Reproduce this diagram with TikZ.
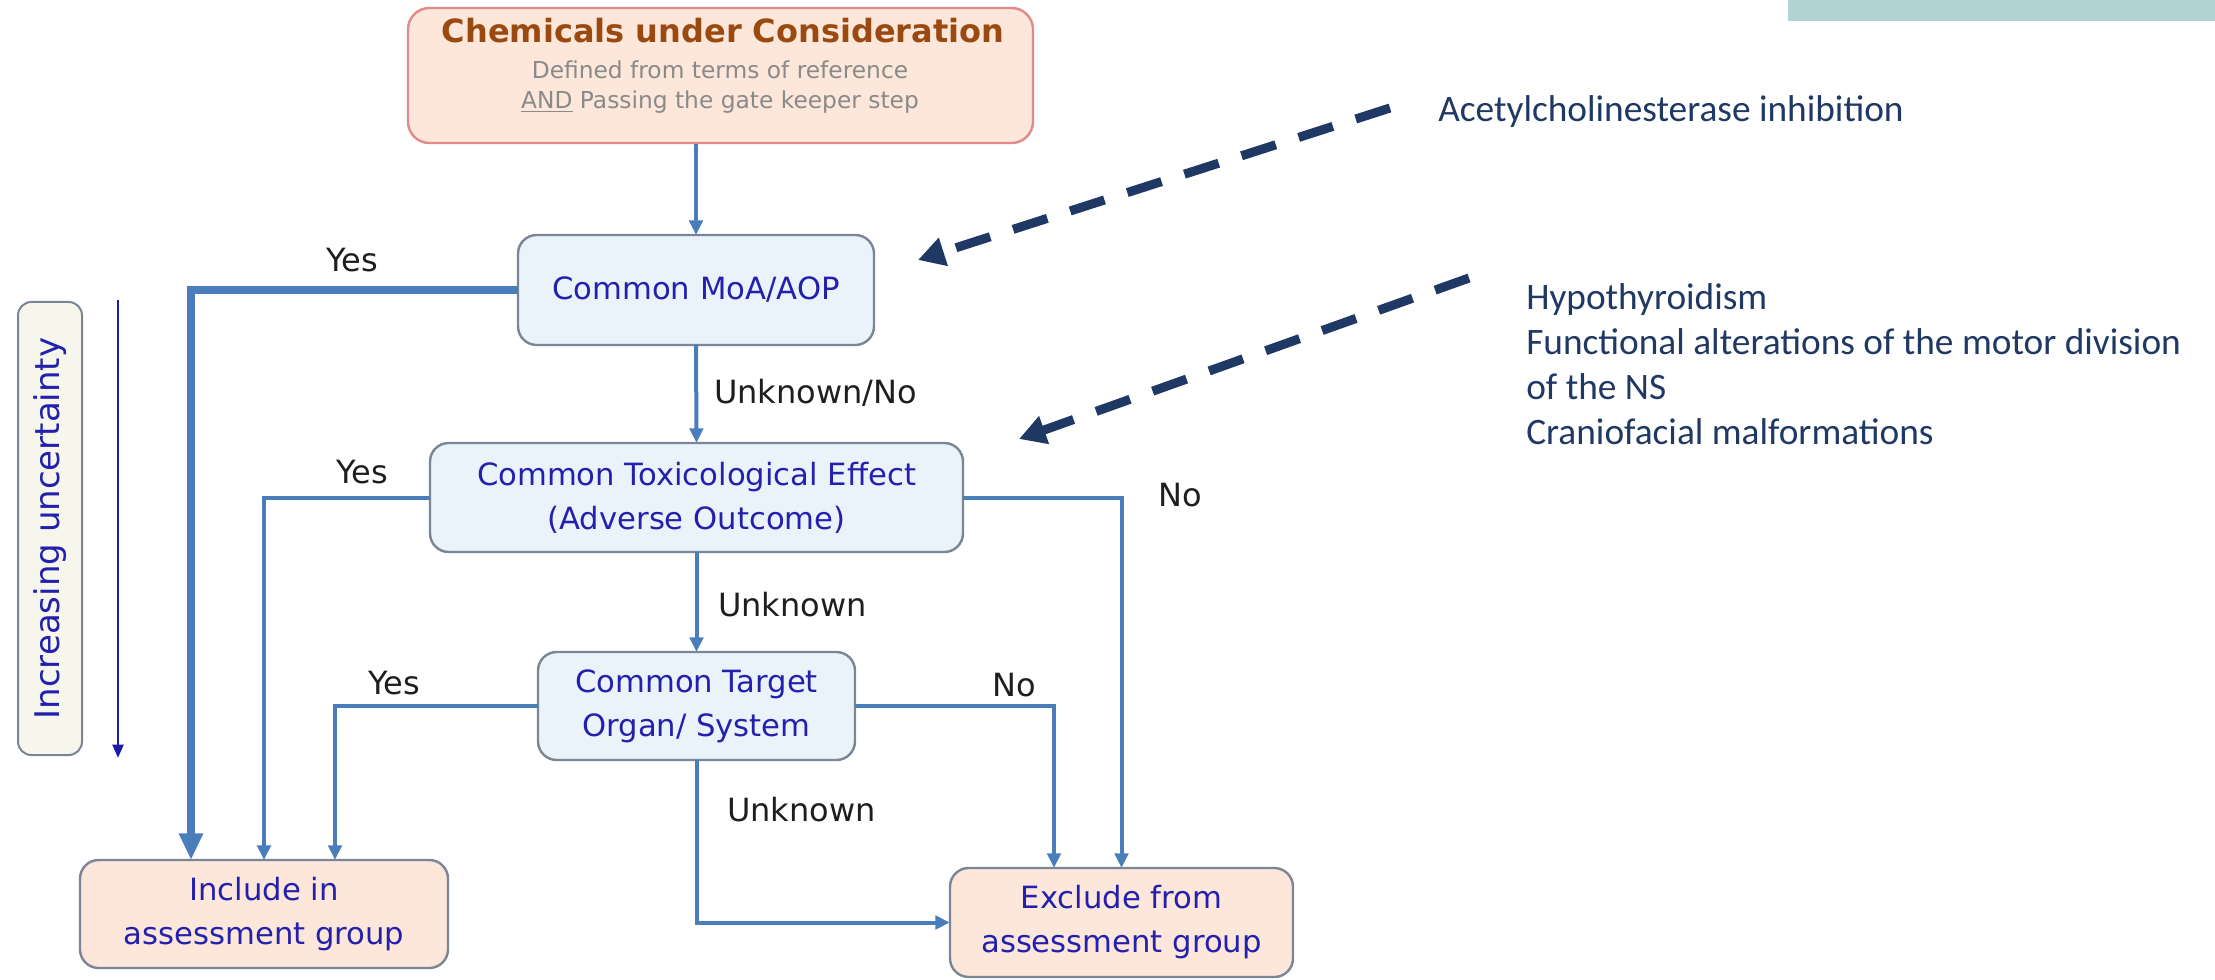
\documentclass[tikz,border=0pt]{standalone}
\usepackage{fontspec}
\setmainfont{DejaVu Sans}
\newfontfamily\calib{Carlito}
\usetikzlibrary{arrows.meta,calc}

\definecolor{peach}{HTML}{FCE7DA}
\definecolor{peachedge}{HTML}{E08A8A}
\definecolor{titlebrown}{HTML}{9A4A10}
\definecolor{subgray}{HTML}{8A8A8A}
\definecolor{paleblue}{HTML}{EAF3FA}
\definecolor{edgegray}{HTML}{7A8696}
\definecolor{txtblue}{HTML}{2420AE}
\definecolor{linkblue}{HTML}{4A7EBB}
\definecolor{paleivory}{HTML}{F6F6EC}
\definecolor{deepblue}{HTML}{1C1CA8}
\definecolor{navy}{HTML}{203864}
\definecolor{tealbar}{HTML}{B1D3D4}
\definecolor{labelink}{HTML}{1E1E1E}

\tikzset{
  box/.style={draw=edgegray, line width=1.8pt, rounded corners=14pt, inner sep=0pt,
    outer sep=0pt, align=center, text=txtblue, font=\fontsize{23}{33}\selectfont},
  qbox/.style={box, fill=paleblue},
  endbox/.style={box, fill=peach},
  link/.style={draw=linkblue, line width=3pt, -{Triangle[length=11pt,width=10pt]}},
  mainlink/.style={draw=linkblue, line width=6.5pt, -{Triangle[length=20pt,width=17pt]}},
  answer/.style={text=labelink, font=\fontsize{24}{28}\selectfont, inner sep=0pt},
  hint/.style={draw=navy, line width=6.8pt, dash pattern=on 27pt off 18pt,
    -{Triangle[length=20pt,width=21pt]}},
  note/.style={text=navy, inner sep=0pt, font=\calib\fontsize{28}{33.75}\selectfont, align=left},
  subline/.style={anchor=base, inner sep=0pt, text=subgray, font=\fontsize{17.5}{21}\selectfont}
}

\begin{document}
\begin{tikzpicture}[x=0.75pt,y=-0.75pt]
\useasboundingbox (0,0) rectangle (2215,980);

% corner band
\fill[tealbar] (1788,0) rectangle (2215,21);

% starting set
\node[draw=peachedge, fill=peach, line width=1.8pt, rounded corners=16pt,
      minimum width=468.75pt, minimum height=101.25pt, inner sep=0pt] (top) at (720.5,75.5) {};
\node[anchor=base, inner sep=0pt, text=titlebrown, font=\fontsize{24}{27}\bfseries] (t1) at (723,43)
  {Chemicals under Consideration};
\node[subline] (t2) at (720,79) {Defined from terms of reference};
\node[subline] (t3) at (720,109) {\underline{AND} Passing the gate keeper step};

% decision boxes
\node[qbox, minimum width=267pt, minimum height=82.5pt] (moa) at (696,290) {Common MoA/AOP};
\node[qbox, minimum width=399.75pt, minimum height=81.75pt] (tox) at (696.5,497.5)
  {Common Toxicological Effect\\(Adverse Outcome)};
\node[qbox, minimum width=237.75pt, minimum height=81pt] (tgt) at (696.5,706)
  {Common Target\\Organ/ System};
\node[endbox, minimum width=276pt, minimum height=81pt] (inc) at (264,914)
  {Include in\\assessment group};
\node[endbox, minimum width=257.25pt, minimum height=81.75pt] (exc) at (1121.5,922.5)
  {Exclude from\\assessment group};

% uncertainty scale
\node[draw=edgegray, fill=paleivory, line width=1.5pt, rounded corners=10pt, rotate=90,
      minimum width=339.75pt, minimum height=48pt, inner sep=0pt, text=txtblue,
      font=\fontsize{25.5}{30}\selectfont] (unc) at (50,528.5) {Increasing uncertainty};
\coordinate (uA) at (118,300);
\coordinate (uB) at (118,758);
\draw[draw=deepblue, line width=2.2pt, -{Triangle[length=10pt,width=8pt]}] (uA) -- (uB);

% branch columns
\coordinate (colA) at (191,0);
\coordinate (colC) at (335,0);
\coordinate (colE) at (1054,0);

% connectors
\draw[link] (top.south -| moa.north) -- (moa.north);
\draw[mainlink] (moa.west) -| (inc.north -| colA);
\draw[link] (moa.south) -- (tox.north);
\draw[link] (tox.west) -| (inc.north);
\draw[link] (tox.east) -| (exc.north);
\draw[link] (tox.south) -- (tgt.north);
\draw[link] (tgt.west) -| (inc.north -| colC);
\draw[link] (tgt.east) -| (exc.north -| colE);
\draw[link] (tgt.south) |- (exc.west);

% answers
\node[answer] (y1) at (352,260) {Yes};
\node[answer, anchor=west] (n1) at (714,393) {Unknown/No};
\node[answer] (y2) at (362,472) {Yes};
\node[answer] (n2) at (1180,495) {No};
\node[answer, anchor=west] (u2) at (718,605) {Unknown};
\node[answer] (y3) at (394,683) {Yes};
\node[answer] (n3) at (1014,685) {No};
\node[answer, anchor=west] (u3) at (727,810) {Unknown};

% examples
\node[note, anchor=west] (ache) at (1438,112) {Acetylcholinesterase inhibition};
\node[note, anchor=west] (effects) at (1526,364.5)
  {Hypothyroidism\\Functional alterations of the motor division\\of the NS\\Craniofacial malformations};
\coordinate (h1) at (1390,108);
\coordinate (h1end) at (918,260);
\coordinate (h2) at (1469,278);
\coordinate (h2end) at (1019,439);
\draw[hint] (h1) -- (h1end);
\draw[hint] (h2) -- (h2end);
\end{tikzpicture}
\end{document}
